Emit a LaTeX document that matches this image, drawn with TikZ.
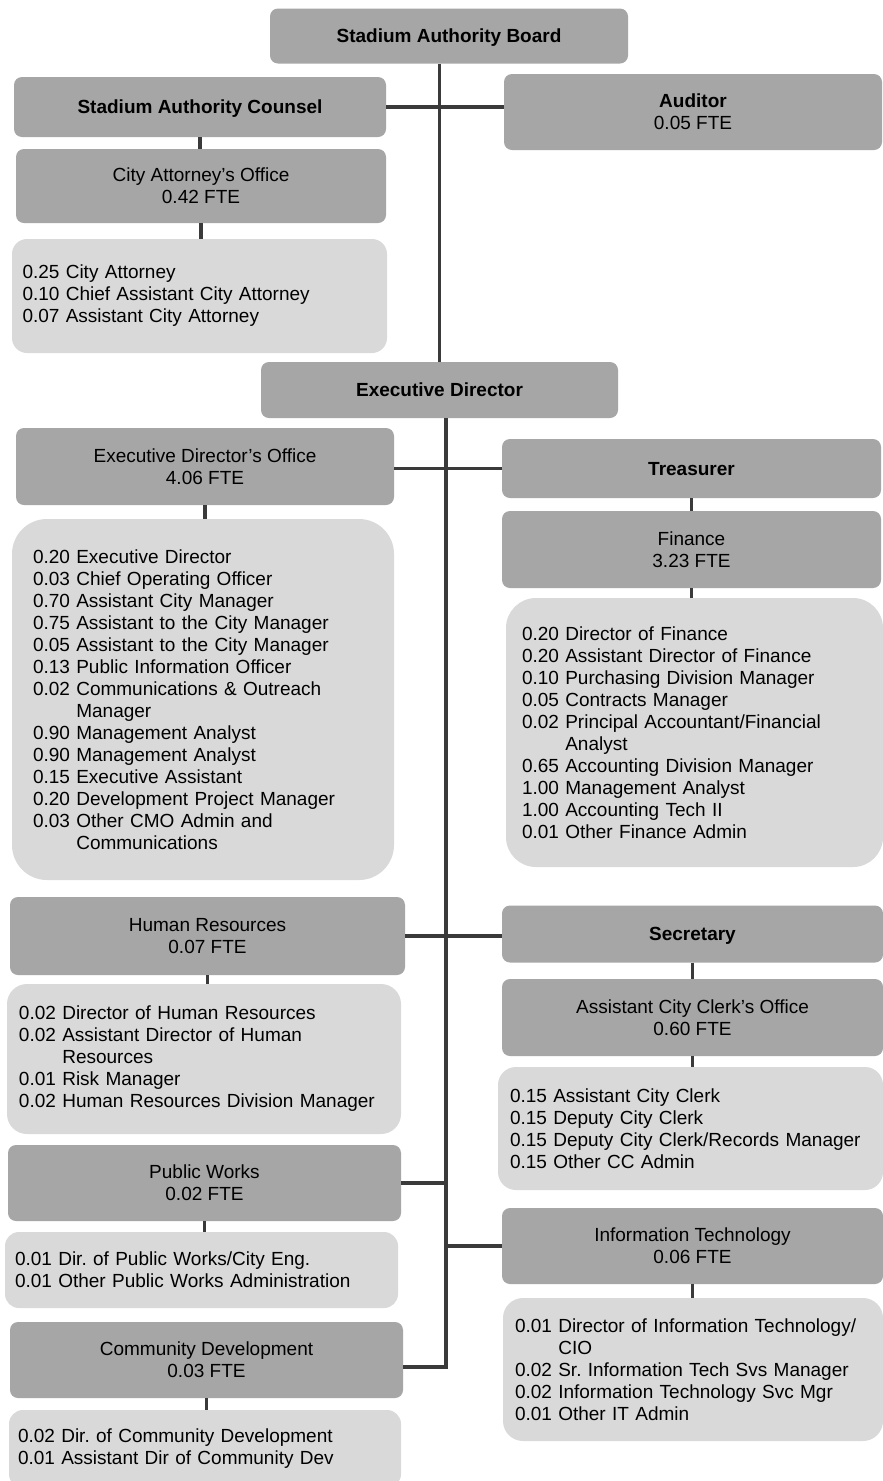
\documentclass[tikz,border=0pt]{standalone}
\usepackage{fontspec}
\setmainfont{Liberation Sans}
\frenchspacing
\definecolor{boxdark}{HTML}{A6A6A6}
\definecolor{boxlight}{HTML}{D9D9D9}
\definecolor{wire}{HTML}{3A3A3A}
\newcommand{\hang}{\hphantom{0.00\ }}

\begin{document}
\begin{tikzpicture}[x=1pt, y=-1pt,
    head/.style={fill=boxdark, rounded corners=8pt, align=center, inner sep=0pt, text depth=0pt, font=\fontsize{19}{22}\selectfont\bfseries},
    unit/.style={fill=boxdark, rounded corners=8pt, align=center, inner sep=0pt, text depth=0pt, font=\fontsize{19}{22}\selectfont},
    staff/.style={fill=boxlight, rounded corners=16pt, align=left, inner ysep=0pt, inner xsep=12pt, font=\fontsize{19}{22}\selectfont},
    link/.style={draw=wire, line width=3.3pt}
]
\clip (0,0) rectangle (883,1481);
\fill[white] (0,0) rectangle (883,1481);

% board and counsel
\node[head, minimum width=358pt, minimum height=55pt] (board) at (449,36) {Stadium Authority Board};
\node[head, minimum width=372pt, minimum height=60pt] (counsel) at (200,107) {Stadium Authority Counsel};
\node[unit, minimum width=378pt, minimum height=76pt] (auditor) at (693,112) {\textbf{Auditor}\\0.05 FTE};
\node[unit, minimum width=370pt, minimum height=74pt] (cao) at (201,186) {City Attorney’s Office\\0.42 FTE};
\node[staff, text width=354pt, inner xsep=10.5pt, minimum height=114pt, rounded corners=15pt] (caostaff) at (199.5,296) {0.25 City Attorney\\0.10 Chief Assistant City Attorney\\0.07 Assistant City Attorney};

% executive director
\node[head, minimum width=357pt, minimum height=56pt] (ed) at (439.5,390) {Executive Director};
\node[unit, minimum width=378pt, minimum height=77pt] (edo) at (205,466.5) {Executive Director’s Office\\4.06 FTE};
\node[head, minimum width=379pt, minimum height=59pt] (treasurer) at (691.5,468.5) {Treasurer};
\node[unit, minimum width=379pt, minimum height=77pt] (finance) at (691.5,549.5) {Finance\\3.23 FTE};
\node[staff, text width=340pt, inner xsep=21pt, minimum height=361pt, rounded corners=35pt] (edostaff) at (203,699.5) {0.20 Executive Director\\0.03 Chief Operating Officer\\0.70 Assistant City Manager\\0.75 Assistant to the City Manager\\0.05 Assistant to the City Manager\\0.13 Public Information Officer\\0.02 Communications \& Outreach\\\hang Manager\\0.90 Management Analyst\\0.90 Management Analyst\\0.15 Executive Assistant\\0.20 Development Project Manager\\0.03 Other CMO Admin and\\\hang Communications};
\node[staff, text width=345pt, inner xsep=16pt, minimum height=269pt, rounded corners=30pt] (finstaff) at (694.5,732.5) {0.20 Director of Finance\\0.20 Assistant Director of Finance\\0.10 Purchasing Division Manager\\0.05 Contracts Manager\\0.02 Principal Accountant/Financial\\\hang Analyst\\0.65 Accounting Division Manager\\1.00 Management Analyst\\1.00 Accounting Tech II\\0.01 Other Finance Admin};

% left departments
\node[unit, minimum width=395pt, minimum height=78pt] (hr) at (207.5,936) {Human Resources\\0.07 FTE};
\node[staff, text width=370pt, inner xsep=12pt, minimum height=150pt, rounded corners=20pt] (hrstaff) at (204,1059) {0.02 Director of Human Resources\\0.02 Assistant Director of Human\\\hang Resources\\0.01 Risk Manager\\0.02 Human Resources Division Manager};
\node[unit, minimum width=393pt, minimum height=76pt] (pw) at (204.5,1183) {Public Works\\0.02 FTE};
\node[staff, text width=373pt, inner xsep=10pt, minimum height=76pt, rounded corners=14pt] (pwstaff) at (201.5,1270) {0.01 Dir. of Public Works/City Eng.\\0.01 Other Public Works Administration};
\node[unit, minimum width=393pt, minimum height=76pt] (cd) at (206.5,1360) {Community Development\\0.03 FTE};
\node[staff, text width=374pt, inner xsep=9pt, minimum height=78pt, rounded corners=14pt] (cdstaff) at (205,1449) {0.02 Dir. of Community Development\\0.01 Assistant Dir of Community Dev};

% right departments
\node[head, minimum width=381pt, minimum height=57pt] (secretary) at (692.5,934) {Secretary};
\node[unit, minimum width=381pt, minimum height=77pt] (acco) at (692.5,1017.5) {Assistant City Clerk’s Office\\0.60 FTE};
\node[staff, text width=361pt, inner xsep=12pt, minimum height=123pt, rounded corners=18pt] (accostaff) at (690.5,1128.5) {0.15 Assistant City Clerk\\0.15 Deputy City Clerk\\0.15 Deputy City Clerk/Records Manager\\0.15 Other CC Admin};
\node[unit, minimum width=381pt, minimum height=76pt] (it) at (692.5,1246) {Information Technology\\0.06 FTE};
\node[staff, text width=356pt, inner xsep=12pt, minimum height=143pt, rounded corners=20pt] (itstaff) at (693,1369.5) {0.01 Director of Information Technology/\\\hang CIO\\0.02 Sr. Information Tech Svs Manager\\0.02 Information Technology Svc Mgr\\0.01 Other IT Admin};

% connectors
\coordinate (spineend) at (446,1367);
\draw[link] (board.south -| ed.north) -- (ed.north);
\draw[link] (counsel.east) -- (auditor.west |- counsel.east);
\draw[link] (ed.south -| spineend) -- (spineend) -- (cd.east |- spineend);
\draw[link] (edo.east |- treasurer.west) -- (treasurer.west);
\draw[link] (hr.east) -- (secretary.west |- hr.east);
\draw[link] (pw.east) -- (pw.east -| spineend);
\draw[link] (it.west -| spineend) -- (it.west);
\foreach \a/\b in {counsel/cao, cao/caostaff, edo/edostaff, treasurer/finance, finance/finstaff, hr/hrstaff, pw/pwstaff, cd/cdstaff, secretary/acco, acco/accostaff, it/itstaff}
  \draw[link] (\a.south) -- (\a.south |- \b.north);
\end{tikzpicture}
\end{document}
